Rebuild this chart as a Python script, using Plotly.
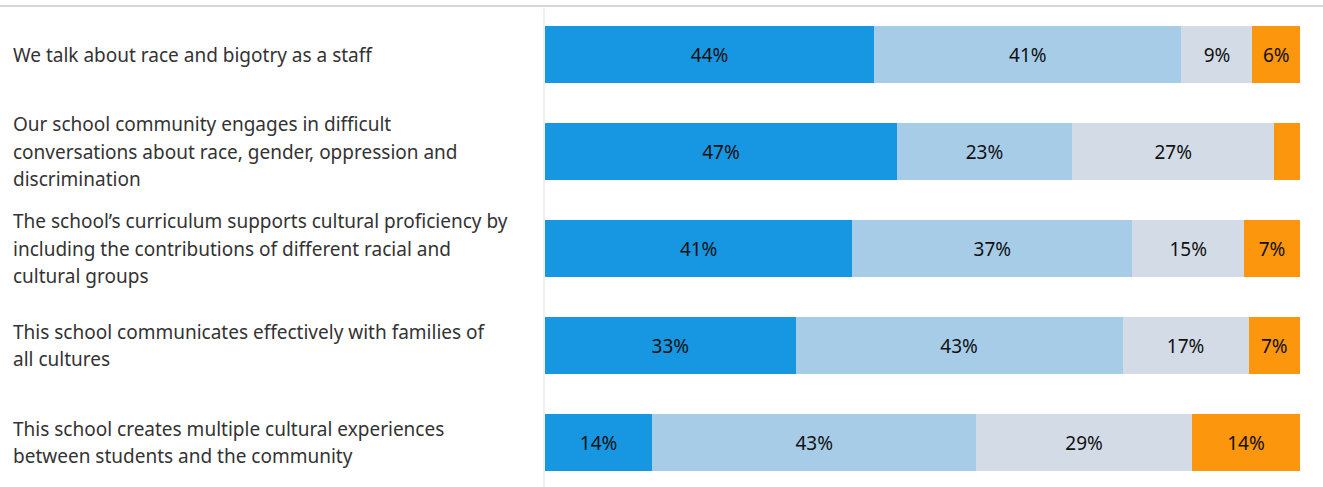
import plotly.graph_objects as go

categories = [
    "We talk about race and bigotry as a staff",
    "Our school community engages in difficult<br>conversations about race, gender, oppression and<br>discrimination",
    "The school\u2019s curriculum supports cultural proficiency by<br>including the contributions of different racial and<br>cultural groups",
    "This school communicates effectively with families of<br>all cultures",
    "This school creates multiple cultural experiences<br>between students and the community",
]
series_names = ["Strongly agree", "Agree", "Disagree", "Strongly disagree"]
strongly_agree = [43.6, 46.6, 40.7, 33.2, 14.2]
agree = [40.7, 23.2, 37.1, 43.3, 42.9]
disagree = [9.4, 26.8, 14.8, 16.7, 28.6]
strongly_disagree = [6.3, 3.4, 7.4, 6.8, 14.3]
colors = ["#1797e1", "#a6cce8", "#d3dce6", "#fb960d"]

W, H = 1323, 487
ML, MR, MT, MB = 545, 23, 6, 0
PW = W - ML - MR
PH = H - MT - MB
STEP = 97.0

ypos = list(range(len(categories)))
fig = go.Figure()
for name, vals, col in zip(series_names, [strongly_agree, agree, disagree, strongly_disagree], colors):
    fig.add_trace(go.Bar(
        name=name, y=ypos, x=vals, orientation="h",
        marker=dict(color=col, line=dict(width=0)),
        text=[f"{v:.0f}%" if v >= 5 else "" for v in vals],
        textposition="inside", insidetextanchor="middle",
        textfont=dict(color="#111111", size=19, family="Noto Sans"),
        width=0.58, hoverinfo="skip",
    ))

annotations = []
for i, cat in enumerate(categories):
    lines = cat.split("<br>")
    n = len(lines)
    for j, ln in enumerate(lines):
        off = (j - (n - 1) / 2) * 27.5
        annotations.append(dict(
            xref="paper", yref="y", x=-(ML - 11) / PW, y=i,
            text=ln, showarrow=False, xanchor="left", yanchor="middle",
            yshift=-off, font=dict(size=19, color="#333333", family="Noto Sans"),
        ))

fig.update_layout(
    width=W, height=H, barmode="stack", showlegend=False,
    margin=dict(l=ML, r=MR, t=MT, b=MB, pad=0),
    plot_bgcolor="white", paper_bgcolor="white",
    xaxis=dict(range=[0, 100], visible=False, fixedrange=True),
    yaxis=dict(range=[-0.5 + PH / STEP, -0.5], visible=False, fixedrange=True),
    annotations=annotations,
    shapes=[
        dict(type="line", xref="paper", yref="paper", x0=-ML / PW, x1=1 + MR / PW,
             y0=1, y1=1, line=dict(color="#d6d6d6", width=2)),
        dict(type="line", xref="paper", yref="paper", x0=-1 / PW, x1=-1 / PW,
             y0=0, y1=0.995, line=dict(color="#f0f0f0", width=2)),
    ],
)
fig.write_html("out.html", config={"displayModeBar": False},
               post_script="document.body.style.margin='0';document.body.style.overflow='hidden';")
